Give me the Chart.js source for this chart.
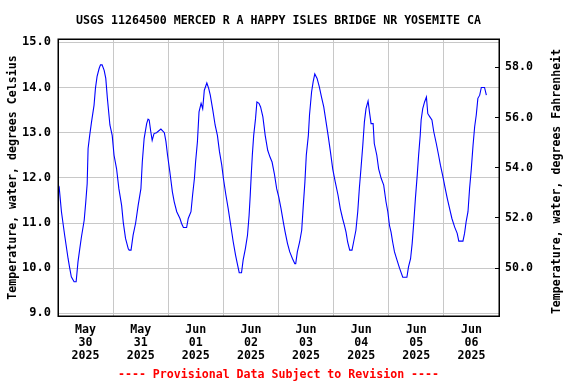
<!DOCTYPE html>
<html>
<head>
<meta charset="utf-8">
<script src="https://cdn.jsdelivr.net/npm/chart.js@4/dist/chart.umd.min.js"></script>
<style>
html,body{margin:0;padding:0;background:#fff;}
canvas{display:block;}
</style>
</head>
<body>
<canvas id="c" width="576" height="384"></canvas>
<script>
// Hours since 2025-05-30 00:00 (local) and water temperature (deg C)
const hours = [
  0,0.5,1.5,2.9,4.4,5.1,5.8,7.0,7.9,8.7,9.5,10.2,11.4,12.1,12.7,13.1,13.8,14.6,15.7,16.3,17.0,17.9,18.5,19.2,20.1,20.8,21.5,22.6,23.6,
  24.4,25.5,26.5,27.7,28.4,29.4,30.6,31.0,31.8,32.7,33.8,34.9,36.1,36.7,37.5,38.6,39.2,39.7,40.4,41.0,41.8,42.9,44.8,46.3,47.0,47.7,
  48.7,49.8,50.6,51.7,53.1,53.8,54.6,56.0,56.7,57.9,58.6,59.4,59.9,60.7,61.4,62.3,63.0,63.7,64.8,65.6,66.3,67.4,68.4,69.4,70.3,71.3,
  72.0,73.1,74.1,75.2,76.3,77.3,78.2,78.9,79.9,80.6,81.6,82.5,83.2,83.7,84.2,84.6,85.2,86.0,86.6,87.5,88.2,89.2,90.2,91.3,92.3,93.2,94.2,95.2,
  96.1,97.1,98.1,98.9,99.9,100.9,102.1,103.1,103.5,104.2,105.2,106.1,106.8,107.5,108.1,109.0,109.5,110.4,111.1,111.8,112.8,113.8,114.7,115.7,116.7,117.6,118.6,119.6,
  120.7,121.9,122.9,123.9,124.7,125.4,126.1,127.0,128.0,128.7,129.7,130.5,131.2,131.9,132.7,133.4,134.1,135.0,135.3,135.7,136.3,137.2,137.7,138.8,139.6,140.7,141.8,142.8,143.6,
  144.3,145.0,145.7,146.5,147.6,148.7,150.1,151.9,152.6,153.5,154.2,154.9,155.6,156.4,157.0,157.7,158.1,158.8,159.6,160.4,161.0,161.9,162.8,163.6,164.7,165.7,166.5,167.6,
  168.6,169.5,170.5,171.5,172.7,173.8,174.5,176.3,177.0,177.7,178.5,179.2,179.9,180.7,181.4,182.1,182.8,183.6,184.3,185.7,186.5
];
const tempC = [
  11.85,11.8,11.25,10.73,10.21,10.0,9.81,9.7,9.7,10.14,10.44,10.69,11.06,11.47,11.87,12.65,12.94,13.24,13.61,13.98,14.24,14.42,14.5,14.5,14.38,14.2,13.76,13.17,12.94,
  12.5,12.2,11.76,11.39,11.02,10.66,10.43,10.4,10.4,10.73,11.0,11.39,11.76,12.35,12.87,13.2,13.3,13.28,13.02,12.83,12.98,13.0,13.08,13.0,12.8,12.5,
  12.13,11.69,11.47,11.25,11.1,10.99,10.9,10.9,11.1,11.25,11.62,11.99,12.35,12.8,13.46,13.65,13.53,13.94,14.1,13.98,13.83,13.5,13.17,12.94,12.58,12.28,
  11.99,11.62,11.32,10.95,10.58,10.29,10.07,9.9,9.9,10.18,10.44,10.73,11.17,11.62,12.13,12.5,12.94,13.31,13.68,13.65,13.57,13.35,12.94,12.61,12.46,12.35,12.09,11.76,
  11.58,11.32,11.02,10.8,10.55,10.36,10.21,10.1,10.1,10.36,10.58,10.84,11.39,11.91,12.5,12.94,13.39,13.9,14.13,14.3,14.2,14.01,13.79,13.57,13.24,12.94,12.58,12.2,
  11.91,11.62,11.32,11.1,10.95,10.8,10.58,10.4,10.4,10.58,10.84,11.25,11.77,12.2,12.72,13.24,13.53,13.7,13.7,13.42,13.2,13.2,12.76,12.5,12.2,11.99,11.84,11.47,11.25,
  10.95,10.8,10.58,10.36,10.18,10.0,9.8,9.8,10.03,10.21,10.55,11.02,11.54,12.06,12.5,12.94,13.28,13.53,13.68,13.79,13.42,13.35,13.28,13.02,12.76,12.5,12.28,12.02,
  11.76,11.54,11.32,11.1,10.91,10.77,10.6,10.6,10.77,11.03,11.25,11.77,12.17,12.72,13.13,13.39,13.76,13.83,14.0,14.0,13.83
];
const dayGridHours = [0,24,48,72,96,120,144,168,192];
const dayLabelHours = [12,36,60,84,108,132,156,180];
const dayLabels = [
  ['May','30','2025'],['May','31','2025'],['Jun','01','2025'],['Jun','02','2025'],
  ['Jun','03','2025'],['Jun','04','2025'],['Jun','05','2025'],['Jun','06','2025']
];
const celsiusTicks = [9,10,11,12,13,14,15];
const fahrenheitTicks = [50,52,54,56,58];
const celsiusMin = 8.94, celsiusMax = 15.075;
const titleText = 'USGS 11264500 MERCED R A HAPPY ISLES BRIDGE NR YOSEMITE CA';
const noteText = '---- Provisional Data Subject to Revision ----';
const leftAxisTitle = 'Temperature, water, degrees Celsius';
const rightAxisTitle = 'Temperature, water, degrees Fahrenheit';

const FAM = '"DejaVu Sans Mono", "Liberation Mono", monospace';
const font = {family: FAM, size: 11.6, weight: 'bold'};

const borderPlugin = {
  id: 'areaBorder',
  afterDatasetsDraw(chart) {
    const {ctx, chartArea: a} = chart;
    ctx.save();
    ctx.strokeStyle = '#000';
    ctx.lineWidth = 1.5;
    ctx.strokeRect(Math.round(a.left) + 0.25, Math.round(a.top) + 0.25, Math.round(a.right - a.left), Math.round(a.bottom - a.top));
    ctx.restore();
  },
  afterDraw(chart) {
    // right-hand axis title, read bottom-to-top like the left one
    const {ctx, chartArea: a} = chart;
    ctx.save();
    ctx.fillStyle = '#000';
    ctx.font = 'bold 11.6px ' + FAM;
    ctx.textAlign = 'center';
    ctx.textBaseline = 'middle';
    ctx.translate(557, (a.top + a.bottom) / 2 + 4);
    ctx.rotate(-Math.PI / 2);
    ctx.fillText(rightAxisTitle, 0, 0);
    ctx.restore();
  }
};

new Chart(document.getElementById('c'), {
  type: 'line',
  data: {
    datasets: [{
      data: hours.map((h, i) => ({x: h, y: tempC[i]})),
      xAxisID: 'x', yAxisID: 'y',
      borderColor: '#0000ff', borderWidth: 1.1,
      pointRadius: 0, tension: 0, fill: false
    }]
  },
  options: {
    responsive: false, animation: false, devicePixelRatio: 1,
    layout: {padding: 0},
    plugins: {
      legend: {display: false},
      tooltip: {enabled: false},
      title: {display: true, text: titleText, fullSize: false, color: '#000', font: font, padding: {top: 14, bottom: 11}},
      subtitle: {display: true, position: 'bottom', text: noteText, fullSize: false, color: '#ff0000', font: font, padding: {top: 0, bottom: 2}}
    },
    scales: {
      x: {
        type: 'linear', position: 'bottom', min: 0, max: 192,
        afterBuildTicks: s => { s.ticks = dayGridHours.map(v => ({value: v})); },
        ticks: {display: false},
        grid: {color: '#c8c8c8', lineWidth: 1, drawTicks: false},
        border: {display: false},
        afterFit: s => { s.height = 0; }
      },
      xl: {
        type: 'linear', position: 'bottom', min: 0, max: 192,
        afterBuildTicks: s => { s.ticks = dayLabelHours.map(v => ({value: v})); },
        ticks: {callback: (v, i) => dayLabels[i], autoSkip: false, maxRotation: 0, padding: 7, color: '#000',
                font: {family: FAM, size: 11.6, weight: 'bold', lineHeight: 1.12}},
        grid: {display: false, drawTicks: false},
        border: {display: false},
        afterFit: s => { s.height = 52; }
      },
      y: {
        position: 'left', min: celsiusMin, max: celsiusMax,
        afterBuildTicks: s => { s.ticks = celsiusTicks.map(v => ({value: v})); },
        ticks: {callback: v => v.toFixed(1), padding: 7, color: '#000', font: {family: FAM, size: 12, weight: 'bold'}},
        grid: {color: '#c8c8c8', lineWidth: 1, drawTicks: false},
        border: {display: false},
        title: {display: true, text: leftAxisTitle, color: '#000', font: font, padding: {top: 6, bottom: 0}},
        afterFit: s => { s.width = 58; }
      },
      y2: {
        position: 'right', min: celsiusMin * 1.8 + 32, max: celsiusMax * 1.8 + 32,
        afterBuildTicks: s => { s.ticks = fahrenheitTicks.map(v => ({value: v})); },
        ticks: {callback: v => v.toFixed(1), padding: 10, color: '#000', font: font},
        grid: {drawOnChartArea: false, drawTicks: true, tickLength: -4, color: '#000', lineWidth: 1},
        border: {display: false},
        afterFit: s => { s.width = 77; }
      }
    }
  },
  plugins: [borderPlugin]
});
</script>
</body>
</html>
